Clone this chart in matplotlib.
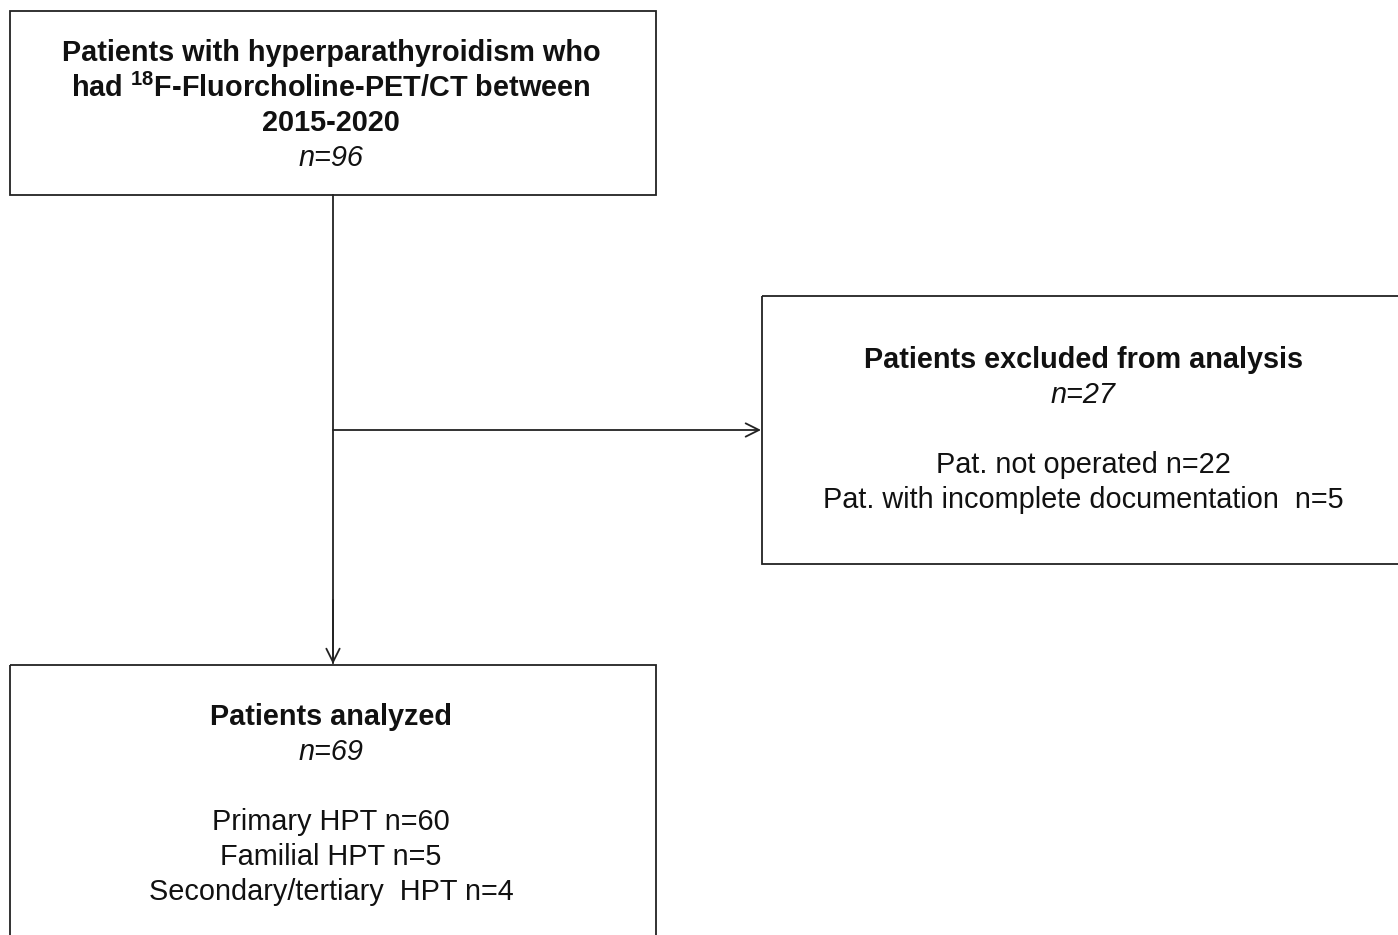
import matplotlib
matplotlib.use("Agg")
import matplotlib.pyplot as plt
from matplotlib.patches import Rectangle

plt.rcParams['font.family'] = ['Liberation Sans', 'DejaVu Sans']
plt.rcParams['mathtext.fontset'] = 'custom'
plt.rcParams['mathtext.rm'] = 'Liberation Sans:bold'

# ---- data ----
n_total = 96
n_excluded = 27
n_not_operated = 22
n_incomplete = 5
n_analyzed = 69
hpt_types = ["Primary HPT", "Familial HPT", "Secondary/tertiary  HPT"]
hpt_counts = [60, 5, 4]
years = "2015-2020"

W, H = 1398, 935
fig = plt.figure(figsize=(W / 100, H / 100), dpi=100)
ax = fig.add_axes([0, 0, 1, 1])
ax.set_xlim(0, W)
ax.set_ylim(H, 0)
ax.axis('off')

lw = 1.3
col = '#222222'
FS = 20.8
DY = 2

def box(x0, y0, x1, y1):
    ax.add_patch(Rectangle((x0, y0), x1 - x0, y1 - y0, fill=False, ec=col, lw=lw))

box(10, 11, 656, 195)
box(762, 296, 1410, 564)
box(10, 665, 656, 950)

# connectors
ax.plot([333, 333], [195, 663], color=col, lw=lw)
ax.annotate('', xy=(333, 664), xytext=(333, 600),
            arrowprops=dict(arrowstyle='->', color=col, lw=lw, mutation_scale=24, shrinkA=0, shrinkB=0))
ax.annotate('', xy=(761, 430), xytext=(333, 430),
            arrowprops=dict(arrowstyle='->', color=col, lw=lw, mutation_scale=24, shrinkA=0, shrinkB=0))

def t(x, y, s, bold=False, italic=False):
    ax.text(x, y + DY, s, ha='center', va='center', fontsize=FS,
            fontweight='bold' if bold else 'normal',
            fontstyle='italic' if italic else 'normal', color='#111111')

# top box
t(331, 51, "Patients with hyperparathyroidism who", bold=True)
t(331, 86, r"had $^{18}$F-Fluorcholine-PET/CT between", bold=True)
t(331, 121, years, bold=True)
t(331, 156, f"n={n_total}", italic=True)

# right box
cx = 1083
t(cx, 358, "Patients excluded from analysis", bold=True)
t(cx, 393, f"n={n_excluded}", italic=True)
t(cx, 463, f"Pat. not operated n={n_not_operated}")
t(cx, 498, f"Pat. with incomplete documentation  n={n_incomplete}")

# bottom box
t(331, 715, "Patients analyzed", bold=True)
t(331, 750, f"n={n_analyzed}", italic=True)
for i, (lab, c) in enumerate(zip(hpt_types, hpt_counts)):
    t(331, 820 + 35 * i, f"{lab} n={c}")

fig.savefig('out.png', dpi=100)
